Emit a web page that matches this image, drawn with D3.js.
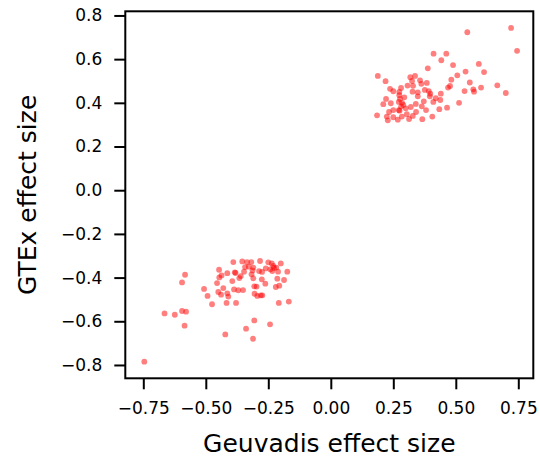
<!DOCTYPE html>
<html>
<head>
<meta charset="utf-8">
<script src="https://cdn.jsdelivr.net/npm/d3@7"></script>
<style>
  body { margin: 0; background: #fff; }
  svg { display: block; font-family: "DejaVu Sans", sans-serif; }
</style>
</head>
<body>
<div id="chart"></div>
<script>
"use strict";
// Geuvadis (x) vs GTEx (y) effect sizes
const geuvadis = [
    0.721, 0.546, 0.745, 0.411, 0.462, 0.442, 0.489, 0.592, 0.388, 0.613,
    0.539, 0.506, 0.188, 0.482, 0.219, 0.318, 0.337, 0.357, 0.325, 0.384,
    0.556, 0.307, 0.329, 0.362, 0.477, 0.469, 0.237, 0.281, 0.250, 0.601,
    0.535, 0.570, 0.573, 0.666, 0.700, 0.274, 0.327, 0.348, 0.376, 0.392,
    0.398, 0.440, 0.274, 0.294, 0.348, 0.396, 0.420, 0.221, 0.438, 0.410,
    0.210, 0.240, 0.272, 0.285, 0.340, 0.372, 0.513, 0.364, 0.465, 0.434,
    0.381, 0.341, 0.300, 0.281, 0.272, 0.250, 0.233, 0.185, 0.224, 0.228,
    0.250, 0.268, 0.284, 0.304, 0.313, 0.328, 0.366, 0.406, 0.275, 0.290,
    0.320, 0.277,
    -0.746, -0.665, -0.624, -0.595, -0.579, -0.585, -0.595, -0.583, -0.507, -0.493,
    -0.475, -0.455, -0.450, -0.446, -0.447, -0.437, -0.439, -0.430, -0.422, -0.417,
    -0.414, -0.414, -0.410, -0.394, -0.390, -0.387, -0.384, -0.379, -0.381, -0.370,
    -0.366, -0.360, -0.354, -0.351, -0.347, -0.343, -0.339, -0.335, -0.328, -0.318,
    -0.317, -0.313, -0.311, -0.310, -0.310, -0.306, -0.306, -0.305, -0.297, -0.294,
    -0.287, -0.283, -0.280, -0.275, -0.274, -0.276, -0.262, -0.260, -0.250, -0.243,
    -0.242, -0.236, -0.234, -0.227, -0.220, -0.218, -0.214, -0.211, -0.208, -0.206,
    -0.200, -0.187, -0.174, -0.168, -0.230
];
const gtex = [
    0.743, 0.723, 0.638, 0.625, 0.625, 0.595, 0.573, 0.578, 0.558, 0.541,
    0.543, 0.526, 0.523, 0.506, 0.499, 0.517, 0.523, 0.503, 0.500, 0.491,
    0.493, 0.479, 0.478, 0.487, 0.477, 0.470, 0.464, 0.468, 0.453, 0.470,
    0.454, 0.462, 0.451, 0.480, 0.445, 0.450, 0.451, 0.448, 0.459, 0.454,
    0.442, 0.442, 0.435, 0.425, 0.430, 0.430, 0.421, 0.418, 0.413, 0.404,
    0.394, 0.398, 0.404, 0.400, 0.395, 0.407, 0.400, 0.384, 0.378, 0.371,
    0.367, 0.358, 0.375, 0.383, 0.367, 0.367, 0.358, 0.343, 0.337, 0.320,
    0.334, 0.323, 0.337, 0.348, 0.326, 0.340, 0.325, 0.337, 0.364, 0.390,
    0.381, 0.418,
    -0.785, -0.564, -0.570, -0.553, -0.556, -0.620, -0.422, -0.387, -0.452, -0.484,
    -0.522, -0.425, -0.466, -0.399, -0.364, -0.390, -0.478, -0.448, -0.660, -0.516,
    -0.380, -0.472, -0.487, -0.416, -0.329, -0.454, -0.376, -0.516, -0.379, -0.458,
    -0.402, -0.393, -0.326, -0.457, -0.373, -0.352, -0.634, -0.329, -0.350, -0.329,
    -0.385, -0.367, -0.680, -0.403, -0.354, -0.596, -0.440, -0.474, -0.441, -0.484,
    -0.370, -0.324, -0.481, -0.374, -0.481, -0.408, -0.428, -0.358, -0.330, -0.614,
    -0.362, -0.335, -0.370, -0.356, -0.443, -0.354, -0.405, -0.373, -0.516, -0.437,
    -0.335, -0.411, -0.373, -0.510, -0.347
];
const xTicks = [-0.75, -0.5, -0.25, 0, 0.25, 0.5, 0.75];
const yTicks = [-0.8, -0.6, -0.4, -0.2, 0, 0.2, 0.4, 0.6, 0.8];
const xLabel = "Geuvadis effect size";
const yLabel = "GTEx effect size";

const width = 540, height = 461;
const marginTop = 11.3, marginRight = 6.7, marginBottom = 82.7, marginLeft = 125.3;

const x = d3.scaleLinear()
    .domain([-0.822, 0.81])
    .range([marginLeft, width - marginRight]);
const y = d3.scaleLinear()
    .domain([-0.861, 0.819])
    .range([height - marginBottom, marginTop]);

const svg = d3.select("#chart").append("svg")
    .attr("width", width)
    .attr("height", height)
    .attr("viewBox", [0, 0, width, height]);

const points = geuvadis.map((d, i) => [d, gtex[i]]);

svg.append("g")
    .attr("fill", "#ff0000")
    .attr("fill-opacity", 0.5)
  .selectAll("circle")
  .data(points)
  .join("circle")
    .attr("cx", d => x(d[0]))
    .attr("cy", d => y(d[1]))
    .attr("r", 2.9);

// x axis
svg.append("g")
    .attr("transform", `translate(0,${height - marginBottom})`)
    .call(d3.axisBottom(x).tickValues(xTicks).tickFormat(d3.format(".2f"))
        .tickSize(11).tickPadding(13))
    .call(g => g.select(".domain").remove())
    .call(g => g.selectAll(".tick line").attr("stroke", "#000").attr("stroke-width", 2))
    .call(g => g.selectAll(".tick text").attr("fill", "#000")
        .style("font-size", "17px").style("font-family", "DejaVu Sans"));

// y axis
svg.append("g")
    .attr("transform", `translate(${marginLeft},0)`)
    .call(d3.axisLeft(y).tickValues(yTicks).tickFormat(d3.format(".1f"))
        .tickSize(11).tickPadding(12))
    .call(g => g.select(".domain").remove())
    .call(g => g.selectAll(".tick line").attr("stroke", "#000").attr("stroke-width", 2))
    .call(g => g.selectAll(".tick text").attr("fill", "#000")
        .style("font-size", "17px").style("font-family", "DejaVu Sans"));

// frame
svg.append("rect")
    .attr("x", marginLeft)
    .attr("y", marginTop)
    .attr("width", width - marginLeft - marginRight)
    .attr("height", height - marginTop - marginBottom)
    .attr("fill", "none")
    .attr("stroke", "#000")
    .attr("stroke-width", 2);

svg.append("text")
    .attr("x", (marginLeft + width - marginRight) / 2)
    .attr("y", 452)
    .attr("text-anchor", "middle")
    .style("font-size", "25px")
    .text(xLabel);

svg.append("text")
    .attr("transform", `translate(36,${(marginTop + height - marginBottom) / 2}) rotate(-90)`)
    .attr("text-anchor", "middle")
    .style("font-size", "25px")
    .text(yLabel);
</script>
</body>
</html>
